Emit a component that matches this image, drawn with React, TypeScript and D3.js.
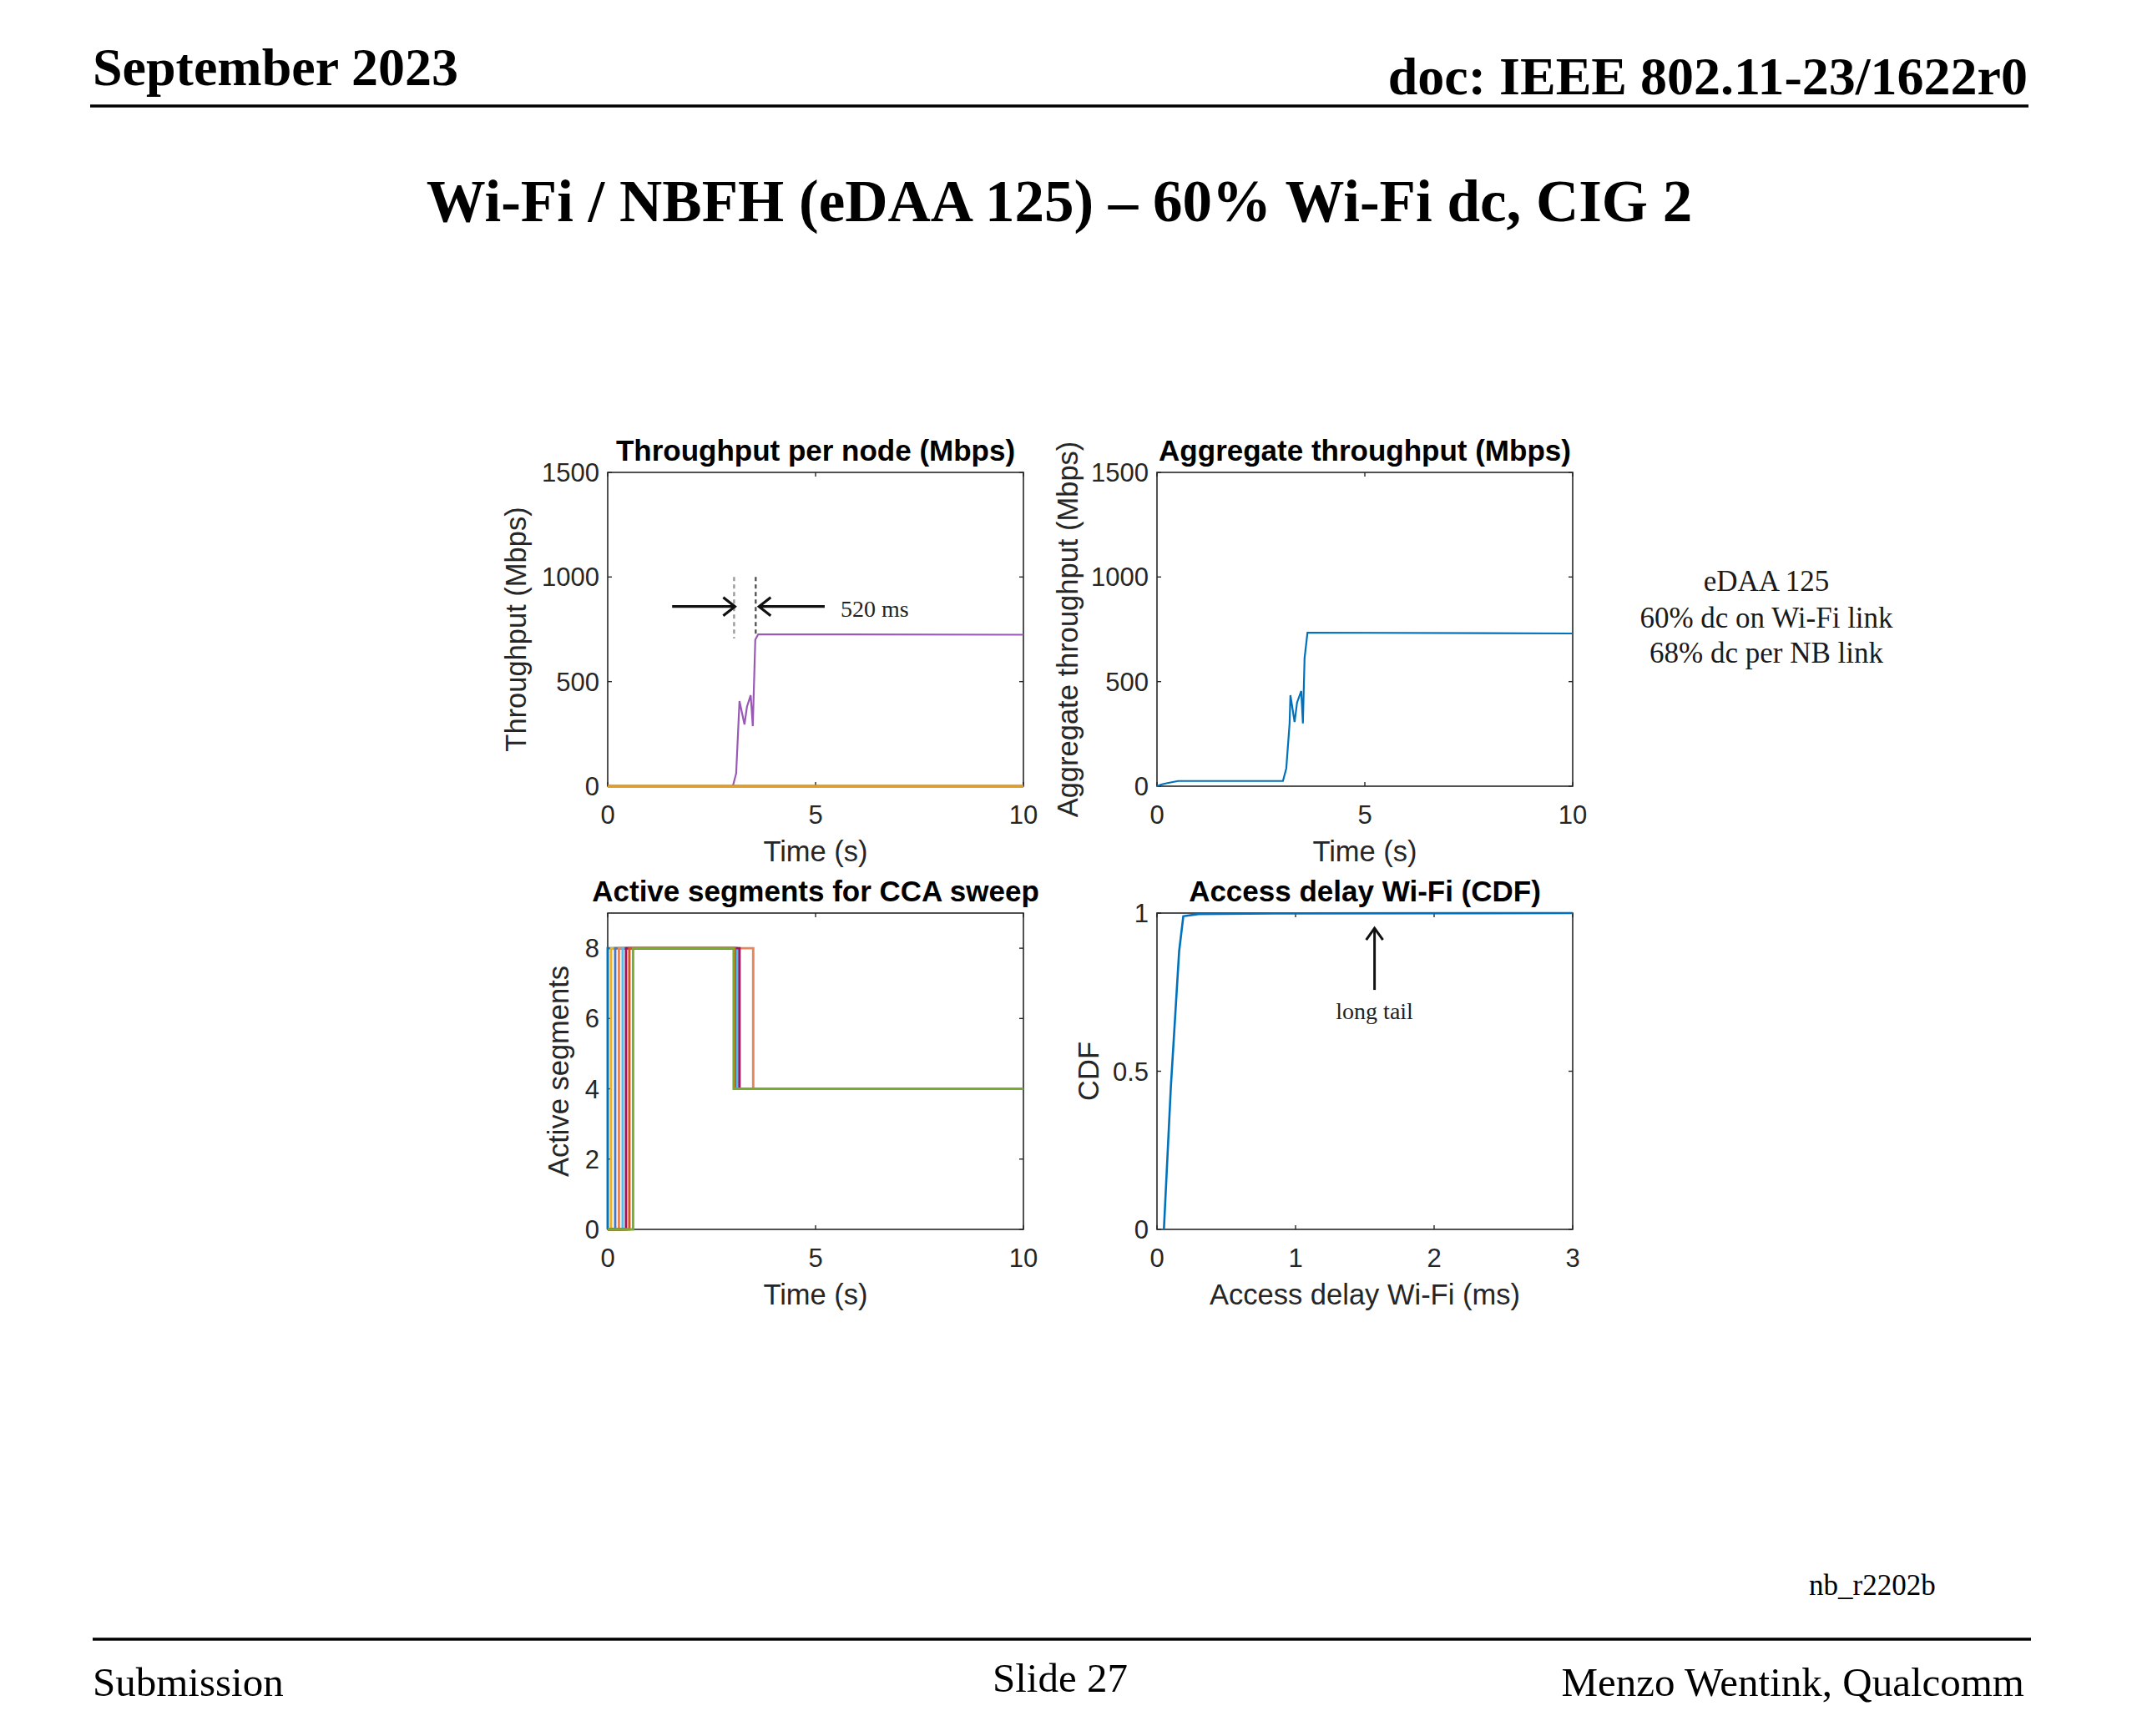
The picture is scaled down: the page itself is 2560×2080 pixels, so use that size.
import React from 'react';
import * as d3 from 'd3';

// values
const nodeTime = [0, 3.01, 3.09, 3.17, 3.29, 3.35, 3.44, 3.49, 3.55, 3.62, 10];
const nodeTput = [0, 0, 61, 407, 295, 380, 435, 287, 700, 726, 724];
const idleTime = [0, 10];
const idleTput = [0, 0];
const idleColors = ['#0072BD', '#D95319', '#EDB120'];

const aggTime = [0, 0.1, 0.25, 0.51, 3.03, 3.11, 3.19, 3.21, 3.31, 3.37, 3.47, 3.51, 3.55, 3.62, 10];
const aggTput = [0, 8, 15, 25, 25, 85, 300, 435, 307, 400, 455, 300, 612, 734, 730];

const segUp = [0, 0.08, 0.18, 0.27, 0.36, 0.44, 0.52, 0.61];
const segDown = [3.05, 3.08, 3.1, 3.5, 3.12, 3.17, 3.06, 3.03];
const segColors = ['#0072BD', '#EDB120', '#4A78C0', '#E8845A', '#4DBEEE', '#A2145A', '#D95319', '#77AC30'];
const segLevels = [0, 8, 4];

const delayMs = [0.05, 0.1, 0.16, 0.19, 0.3, 1, 3];
const delayCdf = [0, 0.45, 0.88, 0.99, 0.997, 0.999, 1];

const timeTicks = [0, 5, 10];
const tputTicks = [0, 500, 1000, 1500];
const segTicks = [0, 2, 4, 6, 8];
const delayTicks = [0, 1, 2, 3];
const cdfTicks = [0, 0.5, 1];

// annotation values
const gapMarks = [3.04, 3.56];
const gapMarkTop = 1000;
const gapMarkBottom = [706, 726];
const arrowLevel = 859;
const tailAt = [1.57, 0.952, 0.757];

const SANS = '"Liberation Sans", Arial, sans-serif';
const SERIF = '"Liberation Serif", "Times New Roman", serif';
const AX = '#262626';

type Sc = d3.ScaleLinear<number, number>;

interface PanelProps {
  left: number;
  top: number;
  width: number;
  height: number;
  xDomain: [number, number];
  yDomain: [number, number];
  xTicks: number[];
  yTicks: number[];
  title: string;
  xLabel: string;
  yLabel: string;
  yLabelGap: number;
  draw: (x: Sc, y: Sc) => React.ReactNode;
}

const Panel = ({ left, top, width, height, xDomain, yDomain, xTicks, yTicks, title, xLabel, yLabel, yLabelGap, draw }: PanelProps) => {
  const x = d3.scaleLinear().domain(xDomain).range([left, left + width]);
  const y = d3.scaleLinear().domain(yDomain).range([top + height, top]);
  const bottom = top + height;
  const right = left + width;
  const fmt = d3.format('');
  const tl = 5;
  return (
    <g>
      <rect x={left} y={top} width={width} height={height} fill="#fff" stroke={AX} strokeWidth={1.6} />
      {xTicks.map(t => (
        <g key={'x' + t}>
          <line x1={x(t)} x2={x(t)} y1={bottom} y2={bottom - tl} stroke={AX} strokeWidth={1.4} />
          <line x1={x(t)} x2={x(t)} y1={top} y2={top + tl} stroke={AX} strokeWidth={1.4} />
          <text x={x(t)} y={bottom + 45} textAnchor="middle" fontFamily={SANS} fontSize={31} fill={AX}>{fmt(t)}</text>
        </g>
      ))}
      {yTicks.map(t => (
        <g key={'y' + t}>
          <line x1={left} x2={left + tl} y1={y(t)} y2={y(t)} stroke={AX} strokeWidth={1.4} />
          <line x1={right} x2={right - tl} y1={y(t)} y2={y(t)} stroke={AX} strokeWidth={1.4} />
          <text x={left - 10} y={y(t) + 11} textAnchor="end" fontFamily={SANS} fontSize={31} fill={AX}>{fmt(t)}</text>
        </g>
      ))}
      {draw(x, y)}
      <text x={(left + right) / 2} y={top - 14} textAnchor="middle" fontFamily={SANS} fontWeight="bold" fontSize={35} fill="#000">{title}</text>
      <text x={(left + right) / 2} y={bottom + 90} textAnchor="middle" fontFamily={SANS} fontSize={34.5} fill={AX}>{xLabel}</text>
      <text transform={`translate(${left - yLabelGap},${(top + bottom) / 2}) rotate(-90)`} textAnchor="middle" fontFamily={SANS} fontSize={34.5} fill={AX}>{yLabel}</text>
    </g>
  );
};

const linePath = (x: Sc, y: Sc, xs: number[], ys: number[], curve: d3.CurveFactory = d3.curveLinear) =>
  d3.line<number>().x(i => x(xs[i])).y(i => y(ys[i])).curve(curve)(d3.range(xs.length)) || '';

const chevron = (tx: number, ty: number, dir: number) =>
  `M${tx - dir * 14},${ty - 11} L${tx},${ty} L${tx - dir * 14},${ty + 11}`;

export default function App() {
  const left1 = 728, left2 = 1386, top1 = 566, top2 = 1094, w = 498;
  return (
    <svg width={2560} height={2080} style={{ position: 'absolute', left: 0, top: 0, background: '#fff' }}>
      <rect width={2560} height={2080} fill="#fff" />
      {/* slide header */}
      <text x={111} y={102} fontFamily={SERIF} fontWeight="bold" fontSize={64} fill="#000">September 2023</text>
      <text x={2429} y={113} textAnchor="end" fontFamily={SERIF} fontWeight="bold" fontSize={64} fill="#000">doc: IEEE 802.11-23/1622r0</text>
      <line x1={108} x2={2430} y1={127} y2={127} stroke="#000" strokeWidth={3.5} />
      <text x={1269} y={265} textAnchor="middle" fontFamily={SERIF} fontWeight="bold" fontSize={71} fill="#000">Wi-Fi / NBFH (eDAA 125) – 60% Wi-Fi dc, CIG 2</text>

      <Panel left={left1} top={top1} width={w} height={376} xDomain={[0, 10]} yDomain={[0, 1500]}
        xTicks={timeTicks} yTicks={tputTicks} title="Throughput per node (Mbps)" xLabel="Time (s)"
        yLabel="Throughput (Mbps)" yLabelGap={98}
        draw={(x, y) => (
          <g>
            <path d={linePath(x, y, nodeTime, nodeTput)} fill="none" stroke="#9B59B6" strokeWidth={2.2} />
            {idleColors.map(c => (
              <path key={c} d={linePath(x, y, idleTime, idleTput)} fill="none" stroke={c} strokeWidth={3.2} opacity={0.8} />
            ))}
            {gapMarks.map((t, i) => (
              <line key={t} x1={x(t)} x2={x(t)} y1={y(gapMarkTop)} y2={y(gapMarkBottom[i])}
                stroke={i === 0 ? '#9a9a9a' : '#555'} strokeWidth={2.4} strokeDasharray="5,4" />
            ))}
            <line x1={x(1.55)} x2={x(3.06)} y1={y(arrowLevel)} y2={y(arrowLevel)} stroke="#111" strokeWidth={3.2} />
            <path d={chevron(x(3.06), y(arrowLevel), 1)} fill="none" stroke="#111" strokeWidth={3.2} />
            <line x1={x(5.22)} x2={x(3.64)} y1={y(arrowLevel)} y2={y(arrowLevel)} stroke="#111" strokeWidth={3.2} />
            <path d={chevron(x(3.64), y(arrowLevel), -1)} fill="none" stroke="#111" strokeWidth={3.2} />
            <text x={x(5.6)} y={y(810)} fontFamily={SERIF} fontSize={28} fill="#222">520 ms</text>
          </g>
        )} />

      <Panel left={left2} top={top1} width={w} height={376} xDomain={[0, 10]} yDomain={[0, 1500]}
        xTicks={timeTicks} yTicks={tputTicks} title="Aggregate throughput (Mbps)" xLabel="Time (s)"
        yLabel="Aggregate throughput (Mbps)" yLabelGap={95}
        draw={(x, y) => (
          <path d={linePath(x, y, aggTime, aggTput)} fill="none" stroke="#0072BD" strokeWidth={2.2} />
        )} />

      <Panel left={left1} top={top2} width={w} height={379} xDomain={[0, 10]} yDomain={[0, 9]}
        xTicks={timeTicks} yTicks={segTicks} title="Active segments for CCA sweep" xLabel="Time (s)"
        yLabel="Active segments" yLabelGap={47}
        draw={(x, y) => (
          <g>
            {segUp.map((u, i) => (
              <path key={i} d={linePath(x, y, [0, u, segDown[i], 10], segLevels.concat([segLevels[2]]), d3.curveStepAfter)}
                fill="none" stroke={segColors[i]} strokeWidth={2.9} />
            ))}
          </g>
        )} />

      <Panel left={left2} top={top2} width={w} height={379} xDomain={[0, 3]} yDomain={[0, 1]}
        xTicks={delayTicks} yTicks={cdfTicks} title="Access delay Wi-Fi (CDF)" xLabel="Access delay Wi-Fi (ms)"
        yLabel="CDF" yLabelGap={70}
        draw={(x, y) => (
          <g>
            <path d={linePath(x, y, delayMs, delayCdf)} fill="none" stroke="#0072BD" strokeWidth={2.6} />
            <line x1={x(tailAt[0])} x2={x(tailAt[0])} y1={y(tailAt[1])} y2={y(tailAt[2])} stroke="#111" strokeWidth={3} />
            <path d={`M${x(tailAt[0]) - 10},${y(tailAt[1]) + 14} L${x(tailAt[0])},${y(tailAt[1])} L${x(tailAt[0]) + 10},${y(tailAt[1]) + 14}`}
              fill="none" stroke="#111" strokeWidth={3} />
            <text x={x(tailAt[0])} y={y(0.665)} textAnchor="middle" fontFamily={SERIF} fontSize={28} fill="#222">long tail</text>
          </g>
        )} />

      {/* side note */}
      <g fontFamily={SERIF} fontSize={35} fill="#1a1a1a" textAnchor="middle">
        <text x={2116} y={708}>eDAA 125</text>
        <text x={2116} y={752}>60% dc on Wi-Fi link</text>
        <text x={2116} y={794}>68% dc per NB link</text>
      </g>

      {/* slide footer */}
      <text x={2167} y={1911} fontFamily={SERIF} fontSize={35} fill="#000">nb_r2202b</text>
      <line x1={111} x2={2433} y1={1964} y2={1964} stroke="#000" strokeWidth={3.5} />
      <text x={111} y={2032} fontFamily={SERIF} fontSize={49} fill="#000">Submission</text>
      <text x={1270} y={2027} textAnchor="middle" fontFamily={SERIF} fontSize={49} fill="#000">Slide 27</text>
      <text x={2425} y={2032} textAnchor="end" fontFamily={SERIF} fontSize={49} fill="#000">Menzo Wentink, Qualcomm</text>
    </svg>
  );
}
